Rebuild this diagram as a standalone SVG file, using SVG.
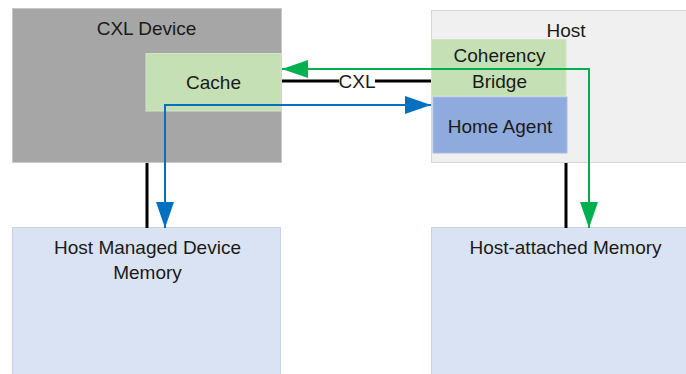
<svg xmlns="http://www.w3.org/2000/svg" width="686" height="374" viewBox="0 0 686 374">
  <style>
    text { font-family: "Liberation Sans", Arial, sans-serif; font-size: 19px; fill: #1a1a1a; text-anchor: middle; }
    .device { fill: #a6a6a6; stroke: #c8c8c8; stroke-width: 1; }
    .host { fill: #f0f0f0; stroke: #d6d6d6; stroke-width: 1; }
    .green-box { fill: #c5e0b4; stroke: #d0e6c2; stroke-width: 1; }
    .agent { fill: #8faadc; stroke: #a9bde4; stroke-width: 1; }
    .mem { fill: #dae3f3; stroke: #c9d3e4; stroke-width: 1; }
    .bus { stroke: #000; stroke-width: 3; fill: none; }
    .flow-g { stroke: #00b050; stroke-width: 2; fill: none; }
    .flow-b { stroke: #0070c0; stroke-width: 2; fill: none; }
  </style>
  <defs>
    <marker id="head-g" viewBox="0 0 26 18" refX="26" refY="9" markerWidth="26" markerHeight="18" markerUnits="userSpaceOnUse" orient="auto-start-reverse">
      <path d="M0,0 L26,9 L0,18 z" fill="#00b050"/>
    </marker>
    <marker id="head-b" viewBox="0 0 26 18" refX="26" refY="9" markerWidth="26" markerHeight="18" markerUnits="userSpaceOnUse" orient="auto-start-reverse">
      <path d="M0,0 L26,9 L0,18 z" fill="#0070c0"/>
    </marker>
  </defs>

  <!-- CXL device with its cache -->
  <g id="cxl-device">
    <rect class="device" x="12.5" y="8.5" width="269" height="154"/>
    <text x="146.5" y="35">CXL Device</text>
  </g>
  <g id="cache">
    <rect class="green-box" x="146" y="53.5" width="135" height="57.5"/>
    <text x="213.5" y="89">Cache</text>
  </g>

  <!-- Host with coherency bridge and home agent -->
  <g id="host">
    <rect class="host" x="431.5" y="10.5" width="270" height="152"/>
    <text x="566" y="37">Host</text>
  </g>
  <g id="coherency-bridge">
    <rect class="green-box" x="431.5" y="39.5" width="134.5" height="56.5"/>
    <text x="499.5" y="62">Coherency</text>
    <text x="499.5" y="88">Bridge</text>
  </g>
  <g id="home-agent">
    <rect class="agent" x="433" y="97" width="134" height="56"/>
    <text x="500" y="133">Home Agent</text>
  </g>

  <!-- Memories -->
  <g id="device-memory">
    <rect class="mem" x="12.5" y="227.5" width="268" height="160"/>
    <text x="147.5" y="254">Host Managed Device</text>
    <text x="147.5" y="279">Memory</text>
  </g>
  <g id="host-memory">
    <rect class="mem" x="431.5" y="227.5" width="270" height="160"/>
    <text x="565.5" y="254">Host-attached Memory</text>
  </g>

  <!-- Connectors -->
  <g id="connectors">
    <line class="bus" x1="282" y1="81" x2="431" y2="81"/>
    <rect x="339" y="72" width="36" height="18" fill="#fff"/>
    <text x="357" y="88">CXL</text>
    <line class="bus" x1="147" y1="163" x2="147" y2="228"/>
    <line class="bus" x1="566" y1="163" x2="566" y2="228"/>
    <path class="flow-g" d="M589,228 L589,69 L282,69" marker-start="url(#head-g)" marker-end="url(#head-g)"/>
    <path class="flow-b" d="M165,228 L165,105 L431,105" marker-start="url(#head-b)" marker-end="url(#head-b)"/>
  </g>
</svg>
